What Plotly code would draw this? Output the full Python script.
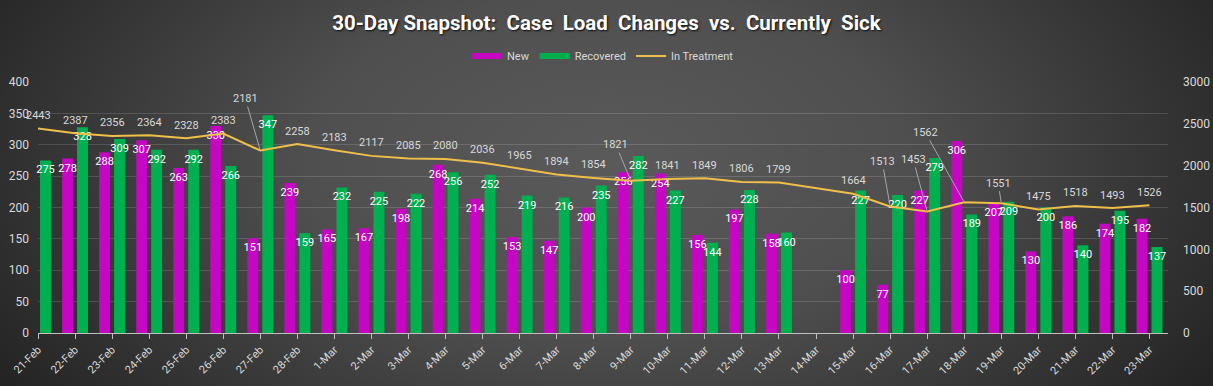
import base64
import plotly.graph_objects as go

dates = ["21-Feb", "22-Feb", "23-Feb", "24-Feb", "25-Feb", "26-Feb", "27-Feb", "28-Feb",
         "1-Mar", "2-Mar", "3-Mar", "4-Mar", "5-Mar", "6-Mar", "7-Mar", "8-Mar", "9-Mar",
         "10-Mar", "11-Mar", "12-Mar", "13-Mar", "14-Mar", "15-Mar", "16-Mar", "17-Mar",
         "18-Mar", "19-Mar", "20-Mar", "21-Mar", "22-Mar", "23-Mar"]

new_cases = [None, 278, 288, 307, 263, 330, 151, 239,
             165, 167, 198, 268, 214, 153, 147, 200, 256,
             254, 156, 197, 158, None, 100, 77, 227,
             306, 207, 130, 186, 174, 182]

recovered = [275, 328, 309, 292, 292, 266, 347, 159,
             232, 225, 222, 256, 252, 219, 216, 235, 282,
             227, 144, 228, 160, None, 227, 220, 279,
             189, 209, 200, 140, 195, 137]

in_treatment = [2443, 2387, 2356, 2364, 2328, 2383, 2181, 2258,
                2183, 2117, 2085, 2080, 2036, 1965, 1894, 1854, 1821,
                1841, 1849, 1806, 1799, None, 1664, 1513, 1453,
                1562, 1551, 1475, 1518, 1493, 1526]

left_ticks = [0, 50, 100, 150, 200, 250, 300, 350, 400]
right_ticks = [0, 500, 1000, 1500, 2000, 2500, 3000]

MAGENTA = "#C506C2"
GREEN = "#00B050"
GOLD = "#EFBF4A"
LABEL = "#D9D9D9"
FONT = "Roboto"

W, H = 1213, 386
ML, MR, MT, MB = 38, 45, 82, 53

# leader-line label offsets (pixels) for some In Treatment labels
leader = {"27-Feb": (-15, -52), "9-Mar": (-15, -36), "16-Mar": (-8, -45),
          "17-Mar": (-14, -52), "18-Mar": (-39, -70), "19-Mar": (-3, -20)}

svg = (f"<svg xmlns='http://www.w3.org/2000/svg' width='{W}' height='{H}'>"
       "<defs><radialGradient id='g' cx='0' cy='0' r='1' "
       "gradientTransform='translate(0.5 0.42) scale(0.62 1.1)'>"
       "<stop offset='0' stop-color='#5a5a5a'/>"
       "<stop offset='0.4' stop-color='#4f4f4f'/>"
       "<stop offset='1' stop-color='#202020'/>"
       "</radialGradient></defs>"
       f"<rect width='{W}' height='{H}' fill='url(#g)'/></svg>")
bg_src = "data:image/svg+xml;base64," + base64.b64encode(svg.encode()).decode()

fig = go.Figure()

# legend-only entries with flat swatches
fig.add_trace(go.Scatter(x=[None], y=[None], mode="lines", name="New",
                         line=dict(color=MAGENTA, width=6), hoverinfo="skip"))
fig.add_trace(go.Scatter(x=[None], y=[None], mode="lines", name="Recovered",
                         line=dict(color=GREEN, width=6), hoverinfo="skip"))

bar_common = dict(textposition="inside", insidetextanchor="end", textangle=0,
                  constraintext="none", cliponaxis=False, showlegend=False,
                  textfont=dict(family=FONT, size=11, color="white"))
fig.add_trace(go.Bar(x=dates, y=new_cases, name="New", marker_color=MAGENTA,
                     marker_line_width=0,
                     text=[("" if v is None else str(v)) for v in new_cases], **bar_common))
fig.add_trace(go.Bar(x=dates, y=recovered, name="Recovered", marker_color=GREEN,
                     marker_line_width=0,
                     text=[("" if v is None else str(v)) for v in recovered], **bar_common))

fig.add_trace(go.Scatter(x=dates, y=in_treatment, name="In Treatment", yaxis="y2",
                         mode="lines", line=dict(color=GOLD, width=2), connectgaps=True))

annotations = []
for d, v in zip(dates, in_treatment):
    if v is None:
        continue
    if d in leader:
        ax, ay = leader[d]
        annotations.append(dict(x=d, y=v, xref="x", yref="y2", text=str(v),
                                showarrow=True, arrowhead=0, arrowwidth=1,
                                arrowcolor="#A6A6A6", ax=ax, ay=ay, standoff=1,
                                font=dict(family=FONT, size=11, color=LABEL)))
    else:
        annotations.append(dict(x=d, y=v, xref="x", yref="y2", text=str(v),
                                showarrow=False, yshift=13,
                                font=dict(family=FONT, size=11, color=LABEL)))

pw = W - ML - MR
ph = H - MT - MB
fig.update_layout(
    width=W, height=H, autosize=False,
    margin=dict(l=ML, r=MR, t=MT, b=MB, pad=0, autoexpand=False),
    paper_bgcolor="#3a3a3a", plot_bgcolor="rgba(0,0,0,0)",
    images=[dict(source=bg_src, xref="paper", yref="paper",
                 x=-ML / pw, y=1 + MT / ph, sizex=W / pw, sizey=H / ph,
                 xanchor="left", yanchor="top", sizing="stretch", layer="below")],
    title=dict(text="30-Day Snapshot:  Case  Load  Changes  vs.  Currently  Sick",
               x=0.5, xanchor="center", y=1 - 23 / H, yanchor="middle",
               font=dict(family=FONT, size=20.5, color="white", weight="bold",
                         shadow="1px 1px 2px rgba(0,0,0,0.85)")),
    legend=dict(orientation="h", x=0.5, xanchor="center", yref="container",
                y=1 - 56 / H, yanchor="middle",
                font=dict(family=FONT, size=11, color=LABEL),
                bgcolor="rgba(0,0,0,0)", itemwidth=30),
    barmode="group", bargap=0.19, bargroupgap=0.27,
    xaxis=dict(type="category", categoryorder="array", categoryarray=dates,
               range=[0, 30.5], tickangle=-45, ticks="outside", ticklen=5,
               tickcolor="#BFBFBF", showline=True, linecolor="#BFBFBF",
               linewidth=1, showgrid=False, automargin=False,
               tickfont=dict(family=FONT, size=11, color=LABEL)),
    yaxis=dict(range=[0, 400], tickvals=left_ticks, showgrid=True,
               gridcolor="rgba(255,255,255,0.14)", gridwidth=1,
               zeroline=False, showline=False, ticks="", automargin=False,
               ticklabelstandoff=8,
               tickfont=dict(family=FONT, size=12, color=LABEL)),
    yaxis2=dict(range=[0, 3000], tickvals=right_ticks, overlaying="y", side="right",
                showgrid=False, zeroline=False, showline=False, ticks="",
                ticklabelstandoff=14, automargin=False,
                tickfont=dict(family=FONT, size=12, color=LABEL)),
    annotations=annotations,
    hovermode=False,
)

fig.write_html("out.html",
               config={"displayModeBar": False, "staticPlot": True},
               post_script="document.body.style.margin='0';"
                           "document.body.style.background='#222';")
